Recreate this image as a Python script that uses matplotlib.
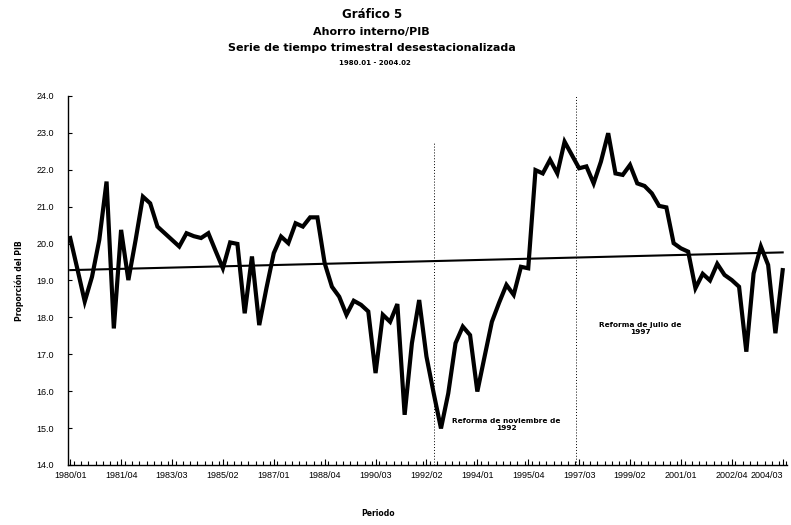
import matplotlib
matplotlib.use("Agg")
import matplotlib.pyplot as plt
from matplotlib.ticker import FixedLocator, MultipleLocator

# ---- data ----
quarter_labels = ["1980/01", "1981/04", "1983/03", "1985/02", "1987/01", "1988/04",
                  "1990/03", "1992/02", "1994/01", "1995/04", "1997/03", "1999/02",
                  "2001/01", "2002/04", "2004/03"]
label_step = 7

ahorro = [20.15, 19.3, 18.43, 19.1, 20.1, 21.68, 17.7, 20.37, 19.01, 20.1,
          21.27, 21.09, 20.46, 20.28, 20.1, 19.92, 20.28, 20.2, 20.15, 20.28,
          19.8, 19.33, 20.03, 19.99, 18.11, 19.65, 17.79, 18.8, 19.74, 20.19,
          20.01, 20.55, 20.46, 20.71, 20.71, 19.47, 18.83, 18.56, 18.07, 18.45,
          18.34, 18.16, 16.49, 18.07, 17.88, 18.36, 15.36, 17.3, 18.47, 16.94,
          15.94, 14.99, 15.94, 17.30, 17.75, 17.52, 15.99, 16.94, 17.88, 18.4,
          18.88, 18.61, 19.37, 19.33, 21.99, 21.90, 22.27, 21.90, 22.76, 22.40,
          22.04, 22.09, 21.63, 22.22, 22.99, 21.90, 21.86, 22.13, 21.63, 21.56,
          21.36, 21.02, 20.98, 20.01, 19.87, 19.78, 18.79, 19.18, 19.0, 19.45,
          19.15, 19.01, 18.83, 17.07, 19.19, 19.92, 19.42, 17.57, 19.28]

trend_start = 19.28
trend_end = 19.76

reform_positions = [50.0, 69.6]
reform_tops = [22.75, 24.0]
reform_texts = ["Reforma de noviembre de\n1992", "Reforma de julio de\n1997"]
reform_text_pos = [(60.0, 15.1), (78.4, 17.7)]

# ---- figure ----
fig = plt.figure(figsize=(7.91, 5.25), dpi=100)
ax = fig.add_axes([0.086, 0.1143, 0.909, 0.703])

n = len(ahorro)
x = list(range(n))
ax.plot(x, ahorro, color="black", lw=3.0, solid_joinstyle="miter", zorder=3)
ax.plot([0, n - 1], [trend_start, trend_end], color="black", lw=1.5, zorder=2)

for xp, top in zip(reform_positions, reform_tops):
    ax.plot([xp, xp], [14.0, top], color="black", lw=0.7, ls=(0, (1, 2)), zorder=1)

for txt, (tx, ty) in zip(reform_texts, reform_text_pos):
    ax.text(tx, ty, txt, ha="center", va="center", fontsize=5.3,
            fontweight="bold", family="DejaVu Sans", linespacing=1.3)

ax.set_xlim(-0.3, 98.6)
ax.set_ylim(14.0, 24.0)

ax.yaxis.set_major_locator(MultipleLocator(1.0))
ax.set_yticklabels([f"{v:.1f}" for v in ax.get_yticks()])
ax.set_xticks(list(range(0, n, label_step)))
ax.set_xticklabels(quarter_labels)
ax.xaxis.set_minor_locator(FixedLocator([i + 0.5 for i in range(-1, n)]))

for lab in ax.get_xticklabels() + ax.get_yticklabels():
    lab.set_family("Liberation Sans")
    lab.set_fontsize(6.5)
ax.get_xticklabels()[-1].set_horizontalalignment("right")
ax.get_xticklabels()[-1].set_x(n - 1 + 0.6)

ax.tick_params(axis="x", which="major", direction="in", length=4, width=0.8, pad=4)
ax.tick_params(axis="x", which="minor", direction="in", length=3, width=0.8)
ax.tick_params(axis="y", which="major", direction="in", length=3, width=0.8, pad=10)

for s in ["top", "right"]:
    ax.spines[s].set_visible(False)
for s in ["left", "bottom"]:
    ax.spines[s].set_linewidth(1.0)
    ax.spines[s].set_color("black")

ax.set_ylabel("Proporción del PIB", fontsize=5.5, fontweight="bold",
              family="DejaVu Sans", labelpad=9)
fig.text(0.478, 0.013, "Periodo", fontsize=5.5, fontweight="bold",
         family="DejaVu Sans", ha="center", va="bottom")

cx = 0.47
fig.text(cx, 0.973, "Gráfico 5", fontsize=8.5, fontweight="bold", ha="center", va="center")
fig.text(cx, 0.940, "Ahorro interno/PIB", fontsize=8, fontweight="bold", ha="center", va="center")
fig.text(cx, 0.908, "Serie de tiempo trimestral desestacionalizada", fontsize=8,
         fontweight="bold", ha="center", va="center")
fig.text(cx + 0.004, 0.880, "1980.01 - 2004.02", fontsize=5, fontweight="bold",
         ha="center", va="center")

fig.savefig("out.png", dpi=100)
